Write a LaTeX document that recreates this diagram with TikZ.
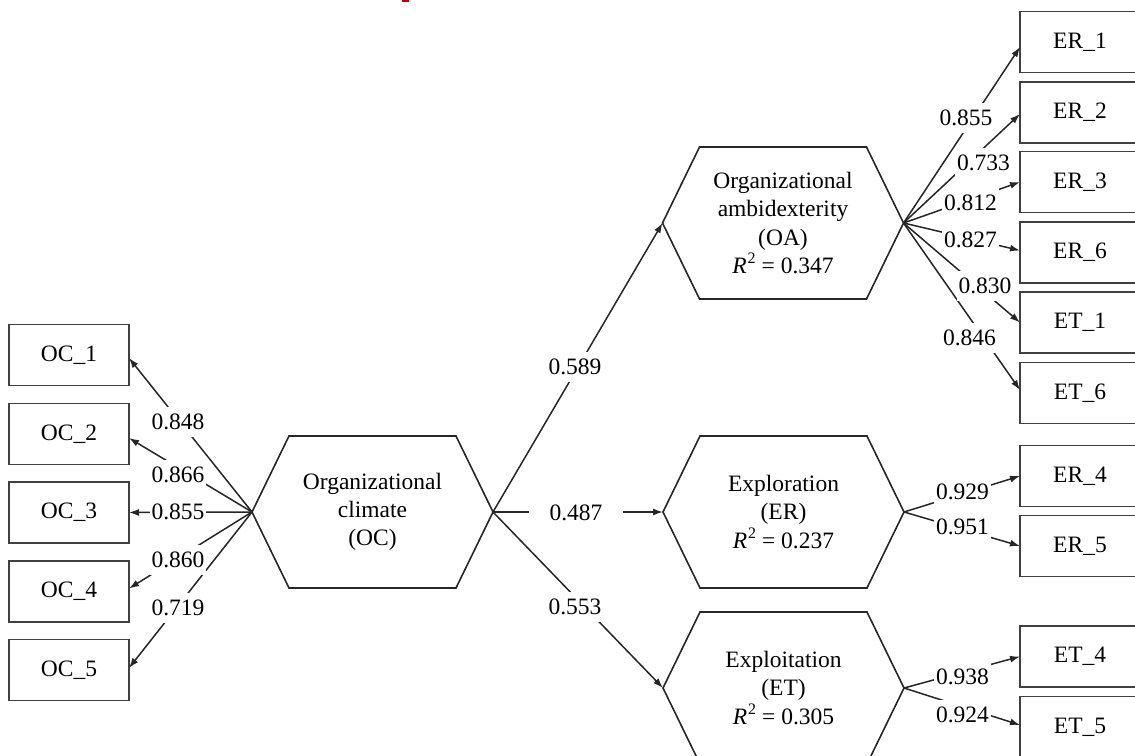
\documentclass[tikz,border=0pt]{standalone}
\usepackage{fontspec}
\setmainfont{Liberation Serif}
\usetikzlibrary{arrows.meta}
\newcommand\drawhexagon[1]{%
  \draw[hexline] (#1.west) -- ([xshift=37pt]#1.north west) -- ([xshift=-37pt]#1.north east)
    -- (#1.east) -- ([xshift=-37pt]#1.south east) -- ([xshift=37pt]#1.south west) -- cycle;}
\newcommand\rsq{\textit{R}\hspace{1pt}\raisebox{0.42em}{\fontsize{16}{16}\selectfont 2}}
\begin{document}
\begin{tikzpicture}[x=1pt,y=-1pt,
  every node/.style={font=\fontsize{23.5}{28.3}\selectfont, text=black},
  ind/.style={draw=black!75, line width=1.8pt, minimum width=120pt, minimum height=61pt, inner sep=0pt, outer sep=0pt},
  hex/.style={minimum width=241pt, minimum height=152pt, align=center, inner sep=0pt, outer sep=0pt},
  hexline/.style={draw=black!85, line width=1.6pt, line join=miter},
  link/.style={draw=black!85, line width=1.5pt},
  arr/.style={link, -{Latex[length=10pt,width=7pt]}},
  lbl/.style={fill=white, inner xsep=2pt, inner ysep=7pt},
]
\useasboundingbox (0,0) rectangle (1135,755);
\clip (0,0) rectangle (1135,755);
\fill[red!70!black] (402,0) rectangle (409,1.5);

% indicator boxes, left
\node[ind] (OC1) at (69,355) {OC\_1};
\node[ind] (OC2) at (69,434) {OC\_2};
\node[ind] (OC3) at (69,512.5) {OC\_3};
\node[ind] (OC4) at (69,591.5) {OC\_4};
\node[ind] (OC5) at (69,670) {OC\_5};

% indicator boxes, right
\node[ind] (ER1) at (1080,42) {ER\_1};
\node[ind] (ER2) at (1080,112.5) {ER\_2};
\node[ind] (ER3) at (1080,182) {ER\_3};
\node[ind] (ER6) at (1080,252.5) {ER\_6};
\node[ind] (ET1) at (1080,322.5) {ET\_1};
\node[ind] (ET6) at (1080,393) {ET\_6};
\node[ind] (ER4) at (1080,476) {ER\_4};
\node[ind] (ER5) at (1080,546) {ER\_5};
\node[ind] (ET4) at (1080,656.5) {ET\_4};
\node[ind] (ET5) at (1080,727) {ET\_5};

% latent constructs
\node[hex] (OC) at (372.5,512) {Organizational\\climate\\(OC)};
\node[hex] (OA) at (783,223) {Organizational\\ambidexterity\\(OA)\\\rsq{} = 0.347};
\node[hex] (ER) at (783.5,512) {Exploration\\(ER)\\\rsq{} = 0.237};
\node[hex] (ET) at (783.5,688) {Exploitation\\(ET)\\\rsq{} = 0.305};
\drawhexagon{OC}
\drawhexagon{OA}
\drawhexagon{ER}
\drawhexagon{ET}

% connectors
\draw[arr] (OC.west) -- ([yshift=-3pt]OC1.east);
\draw[arr] (OC.west) -- ([yshift=-4pt]OC2.east);
\draw[arr] (OC.west) -- (OC3.east);
\draw[arr] (OC.west) -- ([yshift=3pt]OC4.east);
\draw[arr] (OC.west) -- ([yshift=2pt]OC5.east);

\draw[arr] (OC.east) -- (OA.west);
\draw[arr] (OC.east) -- (ER.west);
\draw[arr] (OC.east) -- (ET.west);

\draw[arr] (OA.east) -- ([yshift=-5pt]ER1.west);
\draw[arr] (OA.east) -- ([yshift=-1.5pt]ER2.west);
\draw[arr] (OA.east) -- (ER3.west);
\draw[arr] (OA.east) -- ([yshift=2pt]ER6.west);
\draw[arr] (OA.east) -- (ET1.west);
\draw[arr] (OA.east) -- ([yshift=3pt]ET6.west);

\draw[arr] (ER.east) -- (ER4.west);
\draw[arr] (ER.east) -- (ER5.west);
\draw[arr] (ET.east) -- (ET4.west);
\draw[arr] (ET.east) -- ([yshift=2pt]ET5.west);

% loadings / path coefficients
\node[lbl] (w1) at (178,422) {0.848};
\node[lbl] (w2) at (178,475) {0.866};
\node[lbl] (w3) at (178,512) {0.855};
\node[lbl] (w4) at (178,560) {0.860};
\node[lbl] (w5) at (178,608) {0.719};

\node[lbl] (p1) at (575,367) {0.589};
\node[lbl, inner xsep=21pt] (p2) at (576,513) {0.487};
\node[lbl] (p3) at (575,607) {0.553};

\node[lbl] (a1) at (966,118) {0.855};
\node[lbl] (a2) at (983.5,163) {0.733};
\node[lbl] (a3) at (970.5,203) {0.812};
\node[lbl] (a4) at (970.5,240) {0.827};
\node[lbl] (a5) at (985,286) {0.830};
\node[lbl] (a6) at (969.5,338) {0.846};

\node[lbl] (b1) at (962.5,492) {0.929};
\node[lbl] (b2) at (962.5,527) {0.951};
\node[lbl] (c1) at (962.5,677) {0.938};
\node[lbl] (c2) at (962.5,715) {0.924};
\end{tikzpicture}
\end{document}
